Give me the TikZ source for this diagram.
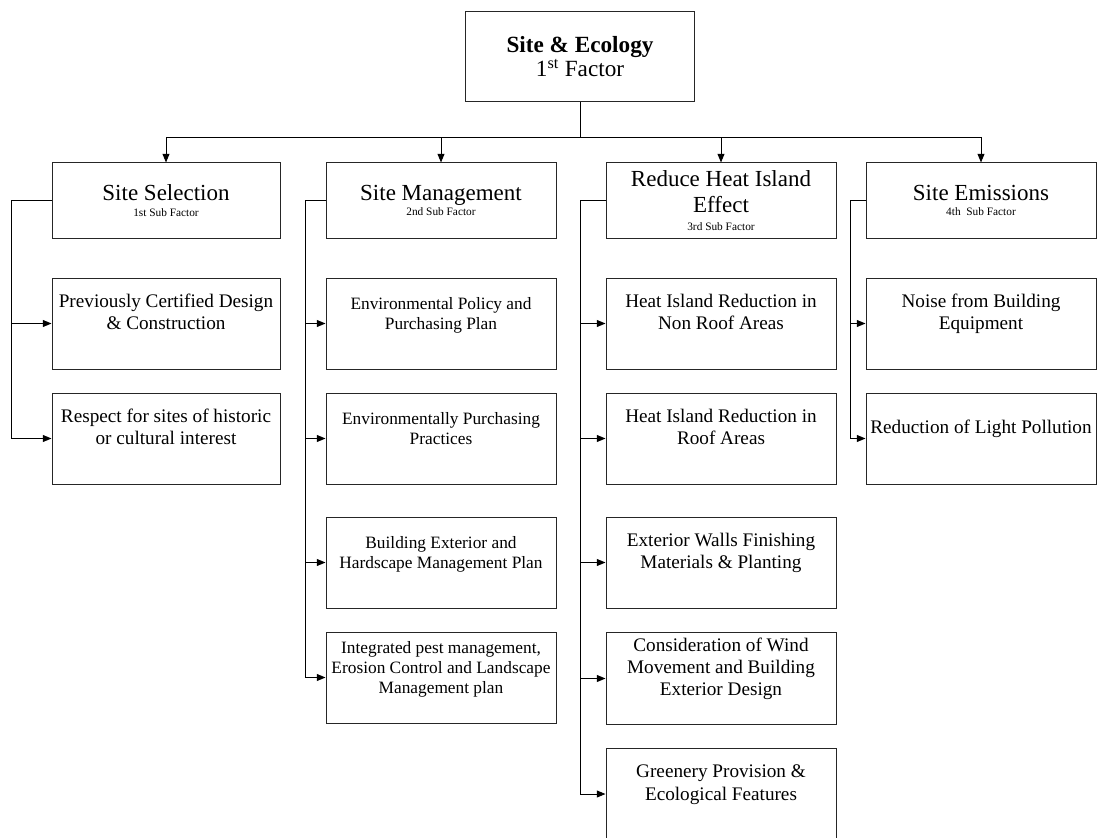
\documentclass[tikz,border=0pt]{standalone}
\usepackage{fontspec}
\setmainfont{Liberation Serif}
\usetikzlibrary{arrows.meta}
\begin{document}
\begin{tikzpicture}[x=0.75pt,y=-0.75pt,
  every node/.style={inner sep=0pt},
  boxbase/.style={draw=black!85, line width=0.75pt, rectangle, align=flush center},
  topbox/.style={boxbase, minimum width=171.75pt, minimum height=67.5pt, text width=165pt,
     font=\fontsize{17.4pt}{18pt}\selectfont},
  subbox/.style={boxbase, minimum width=172.5pt, minimum height=56.25pt, text width=168pt,
     font=\fontsize{17.25pt}{19.5pt}\selectfont},
  kidbox/.style={boxbase, minimum width=172.5pt, minimum height=68.25pt, text width=171pt,
     font=\fontsize{14.4pt}{16.7pt}\selectfont},
  kidboxsm/.style={boxbase, minimum width=172.5pt, minimum height=68.25pt, text width=170pt,
     font=\fontsize{13pt}{15pt}\selectfont},
  conn/.style={line width=0.75pt, black},
  arr/.style={conn, -{Triangle[length=6.5pt, width=5.2pt]}}
]
\useasboundingbox (0,0) rectangle (1099,838);
\newcommand{\subfac}[1]{{\fontsize{8.5pt}{10pt}\selectfont #1}}
\newcommand{\tl}{\rule{0pt}{14pt}}
\newcommand{\tls}{\rule{0pt}{13pt}}

% top
\node[topbox] (top) at (580,57) {\textbf{Site \& Ecology}\\1\textsuperscript{st} Factor};

% sub factors
\node[subbox, minimum width=171pt] (s1) at (166,200.5) {Site Selection\\[-8pt]\subfac{1st Sub Factor}};
\node[subbox] (s2) at (441,200.5) {Site Management\\[-8pt]\subfac{2nd Sub Factor}};
\node[subbox] (s3) at (721,200.5) {Reduce Heat Island\\Effect\\[-6pt]\subfac{3rd Sub Factor}};
\node[subbox] (s4) at (981,200.5) {Site Emissions\\[-8pt]\subfac{4th\ \ Sub Factor}};

% column 1
\node[kidbox, minimum width=171pt] (a1) at (166,323.5) {\tl Previously Certified Design\\\& Construction\\\strut};
\node[kidbox, minimum width=171pt] (a2) at (166,438.5) {\tl Respect for sites of historic\\or cultural interest\\\strut};

% column 2
\node[kidboxsm] (b1) at (441,323.5) {\tls Environmental Policy and\\Purchasing Plan\\\strut};
\node[kidboxsm] (b2) at (441,438.5) {\tls Environmentally Purchasing\\Practices\\\strut};
\node[kidboxsm] (b3) at (441,562.5) {\tls Building Exterior and\\Hardscape Management Plan\\\strut};
\node[kidboxsm] (b4) at (441,677.5) {\tls Integrated pest management,\\Erosion Control and Landscape\\Management plan\\\strut};

% column 3
\node[kidbox] (c1) at (721,323.5) {\tl Heat Island Reduction in\\Non Roof Areas\\\strut};
\node[kidbox] (c2) at (721,438.5) {\tl Heat Island Reduction in\\Roof Areas\\\strut};
\node[kidbox] (c3) at (721,562.5) {\tl Exterior Walls Finishing\\Materials \& Planting\\\strut};
\node[kidbox] (c4) at (721,678.5) {\tl Consideration of Wind\\Movement and Building\\Exterior Design\\\strut};
\node[kidbox] (c5) at (721,794) {\tl Greenery Provision \&\\Ecological Features\\\strut};

% column 4
\node[kidbox] (d1) at (981,323.5) {\tl Noise from Building\\Equipment\\\strut};
\node[kidbox] (d2) at (981,438.5) {\tl Reduction of Light Pollution\\\strut};

% top connectors
\coordinate (bus) at (580,138);
\draw[conn] (top.south) -- (bus);
\foreach \s in {s1,s2,s3,s4} \draw[arr] (bus) -| (\s.north);

% side connectors
\foreach \k in {a1,a2} \draw[arr] (s1.west) -- ++(-40,0) |- (\k.west);
\foreach \k in {b1,b2,b3,b4} \draw[arr] (s2.west) -- ++(-20,0) |- (\k.west);
\foreach \k in {c1,c2,c3,c4,c5} \draw[arr] (s3.west) -- ++(-25,0) |- (\k.west);
\foreach \k in {d1,d2} \draw[arr] (s4.west) -- ++(-15,0) |- (\k.west);
\end{tikzpicture}
\end{document}
